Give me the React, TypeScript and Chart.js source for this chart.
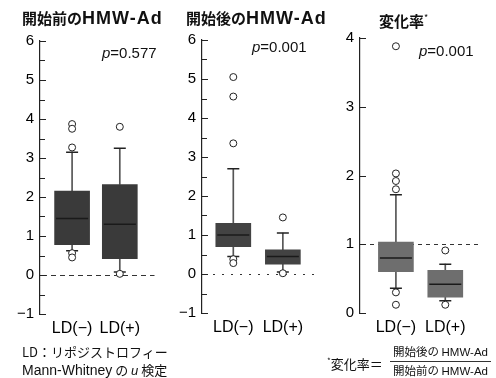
import React, { useEffect, useRef } from 'react';
import { Chart, registerables } from 'chart.js';

Chart.register(...registerables);

// ---------- data ----------
const categories = ['LD(−)', 'LD(+)'];

// Panel 1: 開始前のHMW-Ad
const p1Q1 = [0.78, 0.42];
const p1Q3 = [2.15, 2.32];
const p1Median = [1.45, 1.3];
const p1Low = [0.62, 0.08];
const p1High = [3.15, 3.25];
const p1OutNeg = [3.87, 3.75, 3.27, 0.56, 0.45];
const p1OutPos = [3.8, 0.03];

// Panel 2: 開始後のHMW-Ad
const p2Q1 = [0.7, 0.25];
const p2Q3 = [1.3, 0.62];
const p2Median = [1.0, 0.45];
const p2Low = [0.45, 0.05];
const p2High = [2.7, 1.05];
const p2OutNeg = [5.05, 4.55, 3.35, 0.38, 0.28];
const p2OutPos = [1.45, 0.02];

// Panel 3: 変化率
const p3Q1 = [0.6, 0.23];
const p3Q3 = [1.03, 0.62];
const p3Median = [0.8, 0.42];
const p3Low = [0.36, 0.18];
const p3High = [1.72, 0.71];
const p3OutNeg = [3.88, 2.03, 1.92, 1.8, 0.3, 0.12];
const p3OutPos = [0.91, 0.12];

const pValues = ['0.577', '0.001', '0.001'];
const yTicks1 = { min: -1, max: 6, step: 0.5 };
const yTicks2 = { min: -1, max: 6, step: 0.5 };
const yTicks3 = { min: 0, max: 4, step: 1 };

// ---------- helpers ----------
const XS = [1, 2];
const TEXT = '#111';
const LATIN = '"Liberation Sans", Arial, sans-serif';
const JP = '"Noto Sans CJK JP", "Liberation Sans", sans-serif';

function buildDatasets(q1: number[], q3: number[], med: number[], lo: number[], hi: number[], outNeg: number[], outPos: number[], boxColor: string) {
  return [
    {
      type: 'bar', label: 'whiskerLow',
      data: XS.map((x, i) => ({ x, y: [lo[i], q1[i]] })),
      backgroundColor: '#555', barThickness: 1, grouped: false, order: 5, borderWidth: 0,
    },
    {
      type: 'bar', label: 'whiskerHigh',
      data: XS.map((x, i) => ({ x, y: [q3[i], hi[i]] })),
      backgroundColor: '#555', barThickness: 1, grouped: false, order: 5, borderWidth: 0,
    },
    {
      type: 'bar', label: 'box',
      data: XS.map((x, i) => ({ x, y: [q1[i], q3[i]] })),
      backgroundColor: boxColor, barThickness: 35, grouped: false, order: 4, borderWidth: 0,
    },
    {
      type: 'scatter', label: 'median',
      data: XS.map((x, i) => ({ x, y: med[i] })),
      pointStyle: 'line', pointRadius: 16, borderColor: '#1a1a1a', borderWidth: 1.5, order: 3,
    },
    {
      type: 'scatter', label: 'caps',
      data: [...XS.map((x, i) => ({ x, y: hi[i] })), ...XS.map((x, i) => ({ x, y: lo[i] }))],
      pointStyle: 'line', pointRadius: 6, borderColor: '#222', borderWidth: 1.5, order: 2,
    },
    {
      type: 'scatter', label: 'outliers',
      data: [...outNeg.map((y) => ({ x: 1, y })), ...outPos.map((y) => ({ x: 2, y }))],
      pointStyle: 'circle', pointRadius: 3.5, backgroundColor: '#fff', borderColor: '#222', borderWidth: 1, order: 1,
    },
  ];
}

const decorPlugin = {
  id: 'decor',
  beforeDatasetsDraw(chart: any, _a: any, opts: any) {
    const { ctx, chartArea } = chart;
    const y = chart.scales.y;
    const py = Math.round(y.getPixelForValue(opts.refValue)) + 0.5;
    ctx.save();
    ctx.strokeStyle = '#333';
    ctx.lineWidth = 1;
    ctx.setLineDash(opts.dash);
    ctx.beginPath();
    ctx.moveTo(chartArea.left + 2, py);
    ctx.lineTo(chartArea.right, py);
    ctx.stroke();
    ctx.restore();
  },
  afterDraw(chart: any) {
    const { ctx, chartArea } = chart;
    const y = chart.scales.y;
    ctx.save();
    ctx.strokeStyle = '#222';
    ctx.lineWidth = 1;
    ctx.beginPath();
    y.ticks.forEach((t: any) => {
      const py = Math.round(y.getPixelForValue(t.value)) + 0.5;
      ctx.moveTo(chartArea.left, py);
      ctx.lineTo(chartArea.left + (Number.isInteger(t.value) ? 6 : 5), py);
    });
    ctx.stroke();
    ctx.restore();
  },
};

type PanelProps = {
  left: number; width: number; height: number;
  padding: { left: number; right: number; top: number; bottom: number };
  yWidth: number; xHeight: number;
  xMin: number; xMax: number;
  yRange: { min: number; max: number; step: number };
  refValue: number; dash: number[];
  datasets: any[];
};

function BoxPanel(p: PanelProps) {
  const ref = useRef<HTMLCanvasElement | null>(null);
  useEffect(() => {
    if (!ref.current) return;
    const chart = new Chart(ref.current, {
      type: 'bar',
      data: { datasets: p.datasets as any },
      plugins: [decorPlugin as any],
      options: {
        responsive: false,
        animation: false,
        events: [],
        layout: { padding: p.padding },
        plugins: {
          legend: { display: false },
          tooltip: { enabled: false },
          title: { display: false },
          decor: { refValue: p.refValue, dash: p.dash },
        } as any,
        scales: {
          x: {
            type: 'linear',
            min: p.xMin,
            max: p.xMax,
            offset: false,
            grid: { display: false, drawTicks: false },
            border: { display: false },
            afterBuildTicks: (s: any) => { s.ticks = XS.map((v) => ({ value: v })); },
            afterFit: (s: any) => { s.height = p.xHeight; },
            ticks: {
              autoSkip: false,
              maxRotation: 0,
              padding: 5,
              color: '#000',
              font: { family: LATIN, size: 16 },
              callback: (v: any) => categories[Math.round(v) - 1] ?? '',
            },
          },
          y: {
            type: 'linear',
            min: p.yRange.min,
            max: p.yRange.max,
            grid: { display: false, drawTicks: false },
            border: { display: true, color: '#222', width: 1.2 },
            afterFit: (s: any) => { s.width = p.yWidth; },
            ticks: {
              stepSize: p.yRange.step,
              autoSkip: false,
              padding: 6,
              color: '#000',
              font: { family: LATIN, size: 15 },
              callback: (v: any) => (Number.isInteger(v) ? (v < 0 ? '−' + Math.abs(v) : String(v)) : ''),
            },
          },
        },
      } as any,
    });
    return () => chart.destroy();
  }, []);
  return (
    <canvas
      ref={ref}
      width={p.width}
      height={p.height}
      style={{ position: 'absolute', left: p.left, top: 0, width: p.width, height: p.height }}
    />
  );
}

function Title({ left, top, jp, latin }: { left: number; top: number; jp: string; latin: string }) {
  return (
    <div style={{ position: 'absolute', left, top, whiteSpace: 'nowrap', color: TEXT, lineHeight: '22px' }}>
      <span style={{ fontFamily: JP, fontSize: 15, fontWeight: 700 }}>{jp}</span>
      <span style={{ fontFamily: LATIN, fontSize: 18, fontWeight: 700, letterSpacing: 1 }}>{latin}</span>
    </div>
  );
}

function PValue({ left, top, value }: { left: number; top: number; value: string }) {
  return (
    <div style={{ position: 'absolute', left, top, whiteSpace: 'nowrap', color: TEXT, fontFamily: LATIN, fontSize: 15, lineHeight: '18px' }}>
      <i>p</i>={value}
    </div>
  );
}

export default function App() {
  const H = 345;
  return (
    <div style={{ position: 'absolute', left: 0, top: 0, width: 496, height: 378, background: '#fff', overflow: 'hidden' }}>
      <BoxPanel
        left={0} width={172} height={H}
        padding={{ left: 10, right: 0, top: 41, bottom: 0 }}
        yWidth={30} xHeight={31}
        xMin={1 - 37 / 55} xMax={1 - 37 / 55 + 132 / 55}
        yRange={yTicks1} refValue={0} dash={[5, 4]}
        datasets={buildDatasets(p1Q1, p1Q3, p1Median, p1Low, p1High, p1OutNeg, p1OutPos, '#3a3a3a')}
      />
      <BoxPanel
        left={172} width={164} height={H}
        padding={{ left: 0, right: 0, top: 40, bottom: 0 }}
        yWidth={30} xHeight={32}
        xMin={1 - 36 / 57} xMax={1 - 36 / 57 + 134 / 57}
        yRange={yTicks2} refValue={0} dash={[2, 7]}
        datasets={buildDatasets(p2Q1, p2Q3, p2Median, p2Low, p2High, p2OutNeg, p2OutPos, '#434343')}
      />
      <BoxPanel
        left={336} width={160} height={H}
        padding={{ left: 0, right: 4, top: 38, bottom: 0 }}
        yWidth={24} xHeight={32}
        xMin={1 - 40 / 55} xMax={1 - 40 / 55 + 132 / 55}
        yRange={yTicks3} refValue={1} dash={[4, 4]}
        datasets={buildDatasets(p3Q1, p3Q3, p3Median, p3Low, p3High, p3OutNeg, p3OutPos, '#6e6e6e')}
      />

      <Title left={22} top={7} jp="開始前の" latin="HMW-Ad" />
      <Title left={186} top={7} jp="開始後の" latin="HMW-Ad" />
      <div style={{ position: 'absolute', left: 379, top: 7, whiteSpace: 'nowrap', color: TEXT, lineHeight: '22px', fontFamily: JP, fontSize: 15, fontWeight: 700 }}>
        変化率<sup style={{ fontSize: 9, fontWeight: 400 }}>*</sup>
      </div>

      <PValue left={102} top={44} value={pValues[0]} />
      <PValue left={252} top={38} value={pValues[1]} />
      <PValue left={419} top={42} value={pValues[2]} />

      <div style={{ position: 'absolute', left: 22, top: 343, whiteSpace: 'nowrap', color: TEXT, fontFamily: JP, fontSize: 13, lineHeight: '17px' }}>
        LD：リポジストロフィー
      </div>
      <div style={{ position: 'absolute', left: 22, top: 361, whiteSpace: 'nowrap', color: TEXT, fontFamily: JP, fontSize: 13, lineHeight: '17px' }}>
        <span style={{ fontFamily: LATIN, fontSize: 14 }}>Mann-Whitney</span> の <i style={{ fontFamily: LATIN }}>u</i> 検定
      </div>

      <div style={{ position: 'absolute', left: 327, top: 352, whiteSpace: 'nowrap', color: TEXT, fontFamily: JP, fontSize: 13, lineHeight: '17px' }}>
        <sup style={{ fontSize: 8 }}>*</sup>変化率＝
      </div>
      <div style={{ position: 'absolute', left: 390, top: 343, width: 101, whiteSpace: 'nowrap', color: TEXT, fontFamily: JP, fontSize: 11.5, lineHeight: '16px', textAlign: 'center' }}>
        <div style={{ borderBottom: '1px solid #333', paddingBottom: 1 }}>開始後の <span style={{ fontFamily: LATIN }}>HMW-Ad</span></div>
        <div>開始前の <span style={{ fontFamily: LATIN }}>HMW-Ad</span></div>
      </div>
    </div>
  );
}
